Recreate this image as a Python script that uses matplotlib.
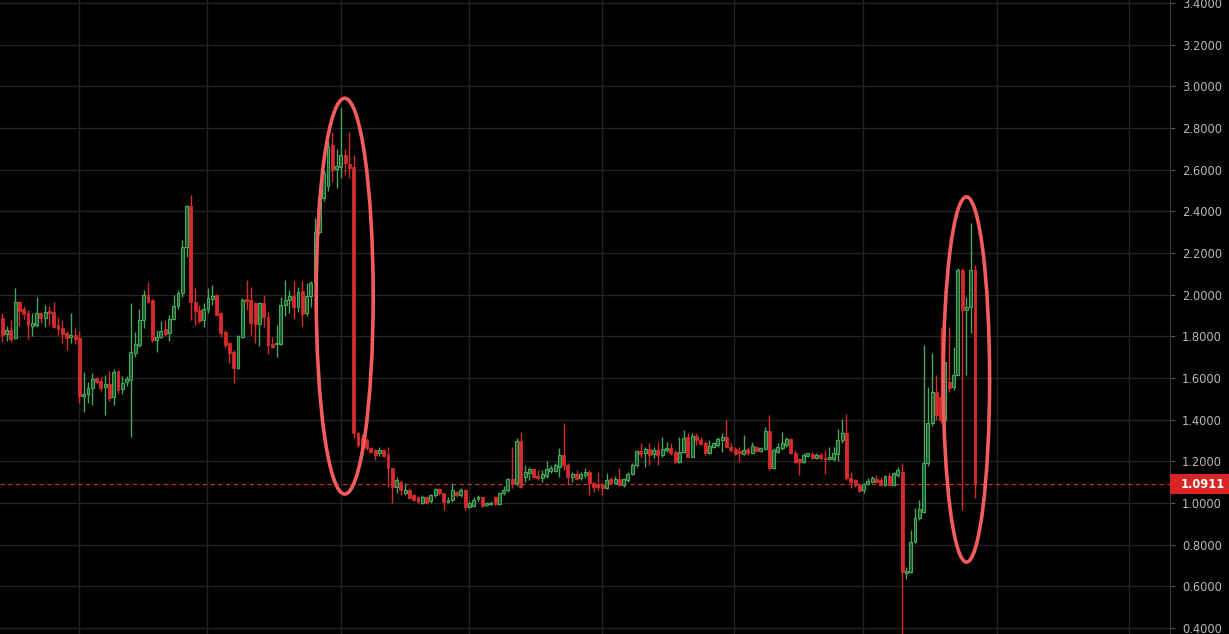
import numpy as np
import matplotlib
matplotlib.use("Agg")
import matplotlib.pyplot as plt
from matplotlib.patches import Ellipse, Rectangle
import matplotlib.transforms as mtransforms

# OHLC, one candle per slot
opens = [1.889, 1.81, 1.83, 1.79, 1.963, 1.93, 1.913, 1.85, 1.854, 1.91,
         1.886, 1.92, 1.918, 1.854, 1.838, 1.817, 1.795, 1.806, 1.79, 1.513,
         1.523, 1.55, 1.598, 1.585, 1.555, 1.571, 1.507, 1.633, 1.545, 1.579,
         1.59, 1.721, 1.758, 1.878, 2.0, 1.975, 1.78, 1.798, 1.833, 1.814,
         1.882, 1.945, 2.006, 2.23, 2.425, 1.966, 1.926, 1.878, 1.93, 1.978,
         2.0, 1.91, 1.822, 1.766, 1.726, 1.646, 1.798, 1.978, 1.974, 1.958,
         1.859, 1.958, 1.894, 1.763, 1.763, 1.763, 1.95, 1.974, 1.994, 1.939,
         2.018, 1.91, 1.994, 2.06, 2.30, 2.464, 2.52, 2.718, 2.603, 2.614,
         2.67, 2.627, 2.614, 1.334, 1.31, 1.302, 1.262, 1.254, 1.238, 1.254,
         1.23, 1.166, 1.078, 1.102, 1.046, 1.062, 1.038, 1.03, 1.001, 1.03,
         1.011, 1.038, 1.065, 1.046, 1.006, 1.014, 1.054, 1.038, 1.062, 0.982,
         0.985, 1.017, 1.027, 0.99, 0.993, 1.03, 0.995, 1.046, 1.062, 1.113,
         1.094, 1.297, 1.123, 1.145, 1.161, 1.13, 1.118, 1.13, 1.155, 1.155,
         1.174, 1.23, 1.182, 1.126, 1.139, 1.118, 1.134, 1.15, 1.097, 1.089,
         1.086, 1.07, 1.113, 1.097, 1.113, 1.086, 1.11, 1.139, 1.182, 1.251,
         1.238, 1.257, 1.235, 1.254, 1.23, 1.254, 1.265, 1.246, 1.198, 1.246,
         1.318, 1.222, 1.321, 1.302, 1.289, 1.241, 1.27, 1.278, 1.302, 1.315,
         1.27, 1.257, 1.251, 1.235, 1.257, 1.241, 1.27, 1.251, 1.257, 1.347,
         1.166, 1.246, 1.262, 1.278, 1.305, 1.241, 1.209, 1.198, 1.225, 1.235,
         1.214, 1.23, 1.214, 1.209, 1.209, 1.235, 1.302, 1.334, 1.118, 1.11,
         1.086, 1.062, 1.091, 1.102, 1.115, 1.11, 1.086, 1.129, 1.086, 1.134,
         1.15, 0.662, 0.67, 0.814, 0.926, 0.958, 1.19, 1.382, 1.534, 1.51,
         1.398, 1.582, 1.558, 1.614, 2.118, 1.926, 1.942, 2.118]
highs = [1.91, 1.85, 1.88, 2.03, 1.97, 1.945, 1.926, 1.91, 1.99, 1.918,
         1.95, 1.945, 1.963, 1.894, 1.878, 1.827, 1.91, 1.838, 1.825, 1.63,
         1.579, 1.622, 1.603, 1.606, 1.614, 1.633, 1.643, 1.638, 1.61, 1.61,
         1.958, 1.822, 1.93, 2.022, 2.06, 1.978, 1.83, 1.875, 1.878, 1.902,
         2.0, 2.022, 2.262, 2.43, 2.478, 2.03, 1.95, 1.958, 2.03, 2.046,
         2.003, 1.918, 1.83, 1.774, 1.734, 1.806, 1.982, 2.07, 2.038, 1.966,
         1.966, 2.0, 1.915, 1.798, 1.854, 1.99, 2.07, 2.022, 2.067, 2.038,
         2.067, 2.058, 2.067, 2.37, 2.478, 2.60, 2.74, 2.782, 2.70, 2.896,
         2.70, 2.782, 2.67, 1.342, 1.33, 1.31, 1.27, 1.26, 1.27, 1.26,
         1.27, 1.17, 1.126, 1.11, 1.094, 1.07, 1.045, 1.035, 1.04, 1.035,
         1.045, 1.07, 1.07, 1.05, 1.03, 1.094, 1.06, 1.07, 1.066, 1.01,
         1.03, 1.04, 1.03, 1.005, 1.01, 1.035, 1.05, 1.08, 1.12, 1.27,
         1.31, 1.342, 1.182, 1.174, 1.166, 1.158, 1.158, 1.2, 1.182, 1.19,
         1.262, 1.382, 1.19, 1.15, 1.158, 1.15, 1.166, 1.158, 1.102, 1.15,
         1.094, 1.142, 1.123, 1.13, 1.166, 1.118, 1.15, 1.19, 1.254, 1.286,
         1.27, 1.286, 1.27, 1.294, 1.318, 1.294, 1.286, 1.254, 1.318, 1.35,
         1.334, 1.334, 1.334, 1.318, 1.299, 1.302, 1.294, 1.318, 1.334, 1.398,
         1.286, 1.27, 1.27, 1.326, 1.27, 1.294, 1.273, 1.27, 1.366, 1.422,
         1.262, 1.289, 1.342, 1.315, 1.31, 1.254, 1.214, 1.238, 1.241, 1.246,
         1.238, 1.238, 1.254, 1.27, 1.27, 1.353, 1.401, 1.427, 1.15, 1.113,
         1.094, 1.094, 1.118, 1.129, 1.134, 1.126, 1.134, 1.142, 1.15, 1.174,
         1.19, 0.694, 0.87, 0.974, 1.014, 1.758, 1.558, 1.72, 1.614, 1.846,
         1.678, 1.846, 1.75, 2.126, 2.126, 1.99, 2.342, 2.142]
lows = [1.774, 1.78, 1.774, 1.787, 1.85, 1.883, 1.786, 1.803, 1.846, 1.862,
        1.846, 1.854, 1.84, 1.806, 1.77, 1.734, 1.766, 1.763, 1.478, 1.438,
        1.478, 1.47, 1.574, 1.539, 1.422, 1.491, 1.47, 1.526, 1.523, 1.562,
        1.318, 1.702, 1.75, 1.838, 1.958, 1.774, 1.726, 1.79, 1.8, 1.78,
        1.878, 1.93, 1.99, 2.18, 1.878, 1.854, 1.862, 1.843, 1.91, 1.95,
        1.898, 1.798, 1.742, 1.67, 1.574, 1.641, 1.79, 1.926, 1.806, 1.766,
        1.753, 1.846, 1.714, 1.742, 1.702, 1.758, 1.898, 1.913, 1.882, 1.918,
        1.85, 1.898, 1.942, 2.05, 2.29, 2.45, 2.50, 2.542, 2.51, 2.56,
        2.574, 2.56, 1.31, 1.27, 1.238, 1.255, 1.24, 1.206, 1.225, 1.22,
        1.078, 0.998, 1.046, 1.038, 1.038, 1.018, 1.01, 1.0, 0.995, 0.995,
        1.0, 1.03, 1.04, 0.966, 1.0, 1.006, 1.03, 1.03, 0.966, 0.975,
        0.98, 1.01, 0.98, 0.985, 0.99, 0.99, 0.99, 1.04, 1.055, 1.07,
        1.08, 1.07, 1.102, 1.11, 1.118, 1.11, 1.102, 1.118, 1.142, 1.15,
        1.126, 1.158, 1.086, 1.102, 1.11, 1.11, 1.118, 1.038, 1.054, 1.062,
        1.038, 1.065, 1.086, 1.091, 1.081, 1.078, 1.102, 1.134, 1.174, 1.214,
        1.174, 1.182, 1.214, 1.182, 1.222, 1.246, 1.23, 1.19, 1.19, 1.238,
        1.219, 1.219, 1.278, 1.278, 1.23, 1.235, 1.262, 1.27, 1.246, 1.262,
        1.246, 1.23, 1.198, 1.23, 1.23, 1.238, 1.246, 1.246, 1.254, 1.158,
        1.161, 1.238, 1.254, 1.27, 1.235, 1.19, 1.134, 1.19, 1.219, 1.209,
        1.209, 1.206, 1.139, 1.206, 1.203, 1.203, 1.286, 1.11, 1.07, 1.078,
        1.054, 1.049, 1.086, 1.094, 1.094, 1.081, 1.081, 1.081, 1.081, 1.126,
        0.35, 0.634, 0.662, 0.81, 0.918, 0.95, 1.18, 1.37, 1.398, 1.382,
        1.39, 1.534, 1.542, 1.61, 0.966, 1.614, 1.814, 1.022]
closes = [1.806, 1.83, 1.786, 1.963, 1.923, 1.907, 1.854, 1.862, 1.91, 1.886,
          1.918, 1.913, 1.846, 1.833, 1.81, 1.79, 1.806, 1.787, 1.513, 1.523,
          1.55, 1.593, 1.582, 1.55, 1.569, 1.502, 1.63, 1.542, 1.577, 1.595,
          1.726, 1.763, 1.878, 2.0, 1.966, 1.78, 1.798, 1.827, 1.81, 1.882,
          1.945, 2.006, 2.23, 2.425, 1.966, 1.923, 1.875, 1.93, 1.982, 1.994,
          1.904, 1.814, 1.758, 1.718, 1.646, 1.8, 1.974, 1.971, 1.862, 1.859,
          1.958, 1.891, 1.758, 1.75, 1.77, 1.95, 1.974, 1.994, 1.939, 2.014,
          1.907, 1.994, 2.054, 2.30, 2.464, 2.584, 2.71, 2.598, 2.617, 2.67,
          2.63, 2.61, 1.334, 1.278, 1.27, 1.262, 1.246, 1.23, 1.254, 1.225,
          1.166, 1.078, 1.11, 1.062, 1.062, 1.022, 1.014, 1.006, 1.027, 1.001,
          1.038, 1.065, 1.046, 1.006, 1.014, 1.062, 1.038, 1.062, 0.982, 0.998,
          1.014, 1.027, 0.985, 1.0, 1.001, 0.995, 1.046, 1.062, 1.113, 1.091,
          1.297, 1.078, 1.15, 1.161, 1.123, 1.118, 1.137, 1.161, 1.169, 1.182,
          1.23, 1.182, 1.126, 1.139, 1.115, 1.139, 1.15, 1.094, 1.078, 1.075,
          1.07, 1.11, 1.097, 1.113, 1.086, 1.113, 1.139, 1.182, 1.251, 1.235,
          1.257, 1.23, 1.254, 1.23, 1.257, 1.265, 1.238, 1.198, 1.246, 1.31,
          1.222, 1.321, 1.302, 1.283, 1.238, 1.273, 1.286, 1.305, 1.318, 1.27,
          1.254, 1.235, 1.238, 1.254, 1.238, 1.273, 1.251, 1.262, 1.347, 1.166,
          1.254, 1.267, 1.286, 1.305, 1.238, 1.198, 1.198, 1.23, 1.238, 1.214,
          1.23, 1.214, 1.209, 1.219, 1.238, 1.302, 1.334, 1.118, 1.102, 1.086,
          1.059, 1.091, 1.107, 1.118, 1.102, 1.086, 1.129, 1.086, 1.142, 1.158,
          0.67, 0.675, 0.814, 0.926, 0.969, 1.19, 1.382, 1.534, 1.422, 1.398,
          1.678, 1.55, 1.614, 2.118, 1.926, 1.942, 2.118, 1.0911]

last_price = 1.0911
price_ticks = np.arange(0.4, 3.41, 0.2)
time_grid = [18, 47.8, 79, 108.9, 139.9, 170.8, 200.9, 232.1, 263]

bg = "#000000"
grid_c = "#232323"
up_edge = "#46a65a"
up_face = "#1d5a2e"
dn_c = "#d42b2b"
mark_c = "#f25c5c"

fig = plt.figure(figsize=(12.29, 6.34), dpi=100)
fig.patch.set_facecolor(bg)
ax = fig.add_axes([0, 0, 1170 / 1229, 1])
ax.set_facecolor(bg)

o = np.array(opens)
h = np.array(highs)
l = np.array(lows)
c = np.array(closes)
x = np.arange(len(o))
up = c >= o

# wicks
ax.vlines(x[up], l[up], h[up], color=up_edge, lw=1, zorder=3)
ax.vlines(x[~up], l[~up], h[~up], color=dn_c, lw=1, zorder=3)

# bodies
bottom = np.minimum(o, c)
height = np.maximum(np.abs(c - o), 0.006)
ax.bar(x[up], height[up], bottom=bottom[up], width=0.68,
       facecolor=up_face, edgecolor=up_edge, lw=0.8, zorder=4)
ax.bar(x[~up], height[~up], bottom=bottom[~up], width=0.68,
       facecolor=dn_c, edgecolor=dn_c, lw=0.6, zorder=4)

# last price line
ax.axhline(last_price, color=dn_c, lw=0.8, ls=(0, (4, 3)), zorder=2)

# highlight ellipses
ax.add_patch(Ellipse((79.9, 1.993), 13.3, 1.90, fill=False,
                     ec=mark_c, lw=2.6, zorder=6))
ax.add_patch(Ellipse((225.0, 1.593), 10.8, 1.753, fill=False,
                     ec=mark_c, lw=2.6, zorder=6))

ax.set_xlim(-0.54, 272.5)
ax.set_ylim(0.3712, 3.4144)

ax.set_xticks(time_grid)
ax.set_xticklabels([])
ax.tick_params(axis="x", length=0)
ax.set_yticks(price_ticks)
ax.set_yticklabels([f"{v:.4f}" for v in price_ticks])
ax.yaxis.tick_right()
ax.tick_params(axis="y", length=3.5, width=0.8, color="#555555",
               labelcolor="#b4b7bd", labelsize=8.3, pad=5)
ax.grid(True, color=grid_c, lw=1, zorder=0)

for side in ["left", "top", "bottom"]:
    ax.spines[side].set_visible(False)
ax.spines["right"].set_color("#3a3a3a")
ax.spines["right"].set_linewidth(0.8)

# price label on the scale
trans = mtransforms.blended_transform_factory(ax.transAxes, ax.transData)
ax.add_patch(Rectangle((1.0, last_price - 0.05), 0.06, 0.1, transform=trans,
                       fc="#d92525", ec="none", clip_on=False, zorder=7))
ax.text(1.0095, last_price, f"{last_price:.4f}", transform=trans,
        ha="left", va="center", color="white", fontsize=8.3,
        fontweight="bold", clip_on=False, zorder=8)

fig.savefig("out.png", dpi=100, facecolor=bg)
